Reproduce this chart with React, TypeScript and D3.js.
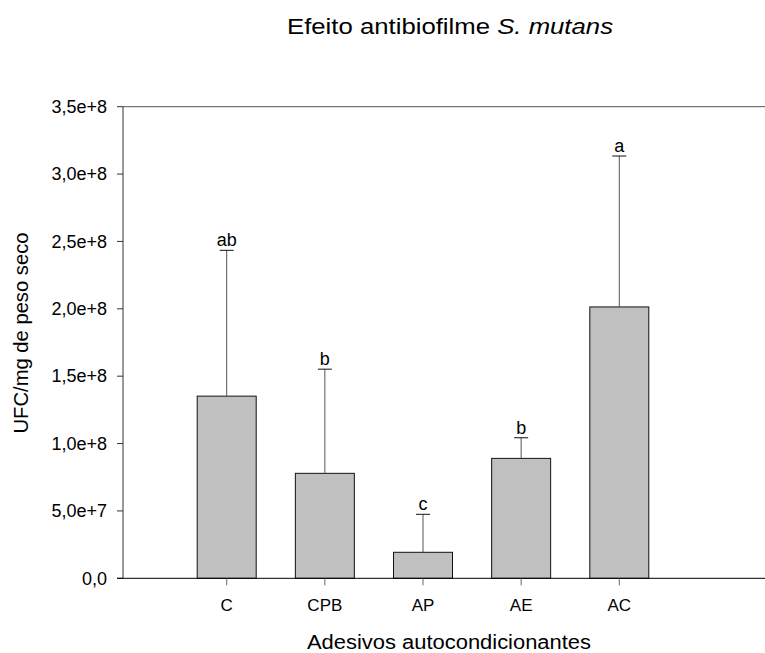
import React from "react";
import * as d3 from "d3";

const categories = ["C", "CPB", "AP", "AE", "AC"];
const means = [1.352e8, 0.779e8, 0.193e8, 0.89e8, 2.014e8];
const errors = [1.082e8, 0.773e8, 0.282e8, 0.153e8, 1.12e8];
const letters = ["ab", "b", "c", "b", "a"];
const yTicks = [0, 5e7, 1e8, 1.5e8, 2e8, 2.5e8, 3e8, 3.5e8];
const yTickLabels = ["0,0", "5,0e+7", "1,0e+8", "1,5e+8", "2,0e+8", "2,5e+8", "3,0e+8", "3,5e+8"];

const W = 765;
const H = 653;
const left = 123;
const right = 765;
const top = 106.7;
const bottom = 578.3;
const font = "'Liberation Sans', Arial, Helvetica, sans-serif";

export default function App() {
  const y = d3.scaleLinear().domain([0, 3.5e8]).range([bottom, top]);
  const x = d3
    .scaleBand<string>()
    .domain(categories)
    .range([left, 723])
    .paddingInner(0.399)
    .paddingOuter(0.756);
  const bw = x.bandwidth();

  return (
    <svg
      width={W}
      height={H}
      style={{ position: "absolute", left: 0, top: 0, background: "#fff" }}
      fontFamily={font}
    >
      <rect width={W} height={H} fill="#fff" />
      <text
        x={450}
        y={34}
        textAnchor="middle"
        fontSize={22}
        fill="#000"
        textLength={326}
        lengthAdjust="spacingAndGlyphs"
      >
        Efeito antibiofilme <tspan fontStyle="italic">S. mutans</tspan>
      </text>

      {/* frame top line */}
      <line x1={left} x2={right} y1={y(3.5e8)} y2={y(3.5e8)} stroke="#555" strokeWidth={1} />

      {/* bars */}
      {categories.map((c, i) => {
        const cx = (x(c) as number) + bw / 2;
        const yTop = y(means[i]);
        const yErr = y(means[i] + errors[i]);
        return (
          <g key={c}>
            <rect
              x={x(c)}
              y={yTop}
              width={bw}
              height={y(0) - yTop}
              fill="#c0c0c0"
              stroke="#111"
              strokeWidth={1}
            />
            <line x1={cx} x2={cx} y1={yTop} y2={yErr} stroke="#555" strokeWidth={1} />
            <line x1={cx - 7} x2={cx + 7} y1={yErr} y2={yErr} stroke="#111" strokeWidth={1} />
            <text x={cx} y={yErr - 4} textAnchor="middle" fontSize={18} fill="#000">
              {letters[i]}
            </text>
          </g>
        );
      })}

      {/* y axis */}
      <line x1={left} x2={left} y1={top} y2={bottom} stroke="#333" strokeWidth={1} />
      {yTicks.map((t, i) => (
        <g key={t}>
          <line x1={left - 6} x2={left} y1={y(t)} y2={y(t)} stroke="#333" strokeWidth={1} />
          <text x={107} y={y(t)} dy="0.35em" textAnchor="end" fontSize={18} fill="#000">
            {yTickLabels[i]}
          </text>
        </g>
      ))}

      {/* x axis */}
      <line x1={left - 6} x2={right} y1={bottom} y2={bottom} stroke="#000" strokeWidth={1} />
      {categories.map((c) => {
        const cx = (x(c) as number) + bw / 2;
        return (
          <g key={c}>
            <line x1={cx} x2={cx} y1={bottom} y2={bottom + 7} stroke="#666" strokeWidth={1} />
            <text x={cx} y={611} textAnchor="middle" fontSize={17} fill="#000">
              {c}
            </text>
          </g>
        );
      })}

      <text
        x={449}
        y={649}
        textAnchor="middle"
        fontSize={20}
        fill="#000"
        textLength={284}
        lengthAdjust="spacingAndGlyphs"
      >
        Adesivos autocondicionantes
      </text>
      <text
        transform={`translate(28, 333) rotate(-90)`}
        textAnchor="middle"
        fontSize={20}
        fill="#000"
        textLength={201}
        lengthAdjust="spacingAndGlyphs"
      >
        UFC/mg de peso seco
      </text>
    </svg>
  );
}
